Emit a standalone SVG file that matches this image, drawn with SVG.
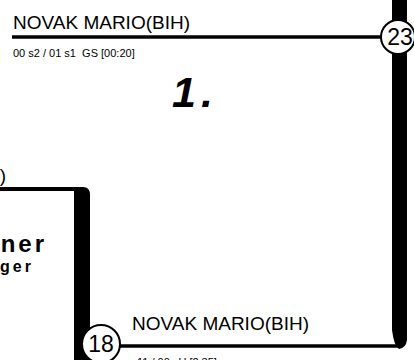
<svg xmlns="http://www.w3.org/2000/svg" width="414" height="360" viewBox="0 0 414 360">
<style>
.name{font-family:"Liberation Sans",Arial,sans-serif;font-size:19px;fill:#000}
.score{font-family:"Liberation Sans",Arial,sans-serif;font-size:11px;fill:#000;white-space:pre}
.seed{font-family:"Liberation Sans",Arial,sans-serif;font-size:23px;fill:#000;text-anchor:middle}
.circ{fill:#fff;stroke:#000;stroke-width:2}
.thin{stroke:#000;stroke-width:3.5;fill:none}
.bold{font-family:"Liberation Sans",Arial,sans-serif;font-weight:bold;fill:#000}
</style>
<rect width="414" height="360" fill="#fff"/>
<g id="connectors">
<line class="thin" x1="12" y1="37" x2="390" y2="37"/>
<path d="M392,0 L407,0 L407,340 Q406,348 399,349 Q394,346 392,330 Z" fill="#000"/>
<path d="M0,187 L83,187 Q90,187 90,195 L90,360 L74,360 L74,191 L0,191 Z" fill="#000"/>
<line class="thin" x1="110" y1="346" x2="400" y2="346"/>
</g>
<g id="node-top">
<text class="name" x="13" y="29">NOVAK MARIO(BIH)</text>
<text class="score" x="13" y="57">00 s2 / 01 s1  GS [00:20]</text>
<g id="seed-23">
<circle class="circ" cx="398" cy="37" r="17"/>
<text class="seed" x="400" y="45">23</text>
</g>
</g>
<g id="node-result">
<text class="bold" x="172" y="107" font-size="43" font-style="italic">1<tspan dx="5">.</tspan></text>
</g>
<g id="node-left">
<text class="name" x="6" y="182" text-anchor="end">NOVAK MARIO(BIH)</text>
<text class="bold" x="47" y="252" font-size="24" letter-spacing="3" text-anchor="end">ner</text>
<text class="bold" x="34" y="272" font-size="16" letter-spacing="3" text-anchor="end">ger</text>
</g>
<g id="node-bottom">
<text class="name" x="132" y="330">NOVAK MARIO(BIH)</text>
<text class="score" x="137" y="366">11 / 00 sU [2:35]</text>
<g id="seed-18">
<circle class="circ" cx="101" cy="344" r="19"/>
<text class="seed" x="101" y="352">18</text>
</g>
</g>
</svg>
